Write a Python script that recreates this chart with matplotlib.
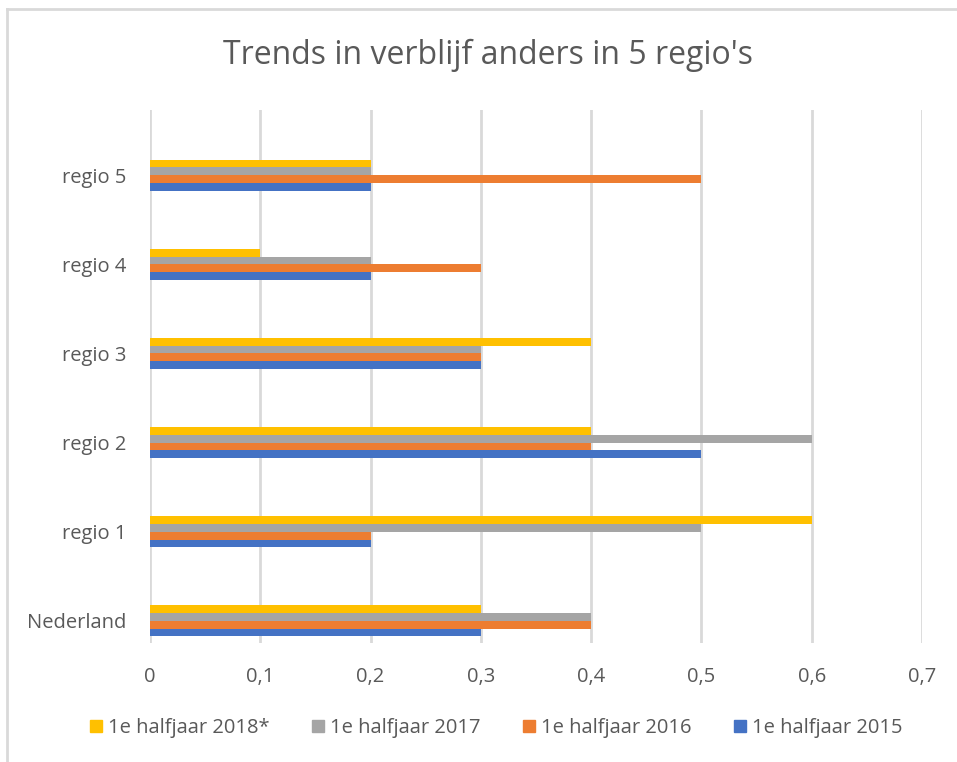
import matplotlib.pyplot as plt
import numpy as np
from matplotlib.lines import Line2D

plt.rcParams['font.family'] = ['Open Sans', 'DejaVu Sans']

# data
regios = ['Nederland', 'regio 1', 'regio 2', 'regio 3', 'regio 4', 'regio 5']
jaar_2015 = [0.3, 0.2, 0.5, 0.3, 0.2, 0.2]
jaar_2016 = [0.4, 0.2, 0.4, 0.3, 0.3, 0.5]
jaar_2017 = [0.4, 0.5, 0.6, 0.3, 0.2, 0.2]
jaar_2018 = [0.3, 0.6, 0.4, 0.4, 0.1, 0.2]
labels = ['1e halfjaar 2015', '1e halfjaar 2016', '1e halfjaar 2017', '1e halfjaar 2018*']
kleuren = ['#4472C4', '#ED7D31', '#A5A5A5', '#FFC000']
xticks = [0, 0.1, 0.2, 0.3, 0.4, 0.5, 0.6, 0.7]

fig = plt.figure(figsize=(9.57, 7.62), dpi=100)
W, H = 957, 762
ax = fig.add_axes([150/W, 1-643/H, (922-150)/W, (643-110)/H])

y = np.arange(len(regios))
h = 0.087
series = [jaar_2015, jaar_2016, jaar_2017, jaar_2018]
for i, (vals, c) in enumerate(zip(series, kleuren)):
    ax.barh(y + (i - 1.5)*h, vals, height=h, color=c, zorder=3)

ax.set_xlim(0, 0.7)
ax.set_ylim(-0.247, 5.73)
ax.set_xticks(xticks)
ax.set_xticklabels([('%g' % v).replace('.', ',') for v in xticks])
ax.set_yticks(y)
ax.set_yticklabels(regios)
ax.tick_params(length=0, labelsize=14.5, colors='#595959')
ax.tick_params(axis='y', pad=17)
ax.tick_params(axis='x', pad=17)
for s in ax.spines.values():
    s.set_visible(False)
ax.grid(axis='x', color='#d9d9d9', linewidth=2, zorder=0)

fig.text(488/W, 1-55/H, "Trends in verblijf anders in 5 regio's",
         ha='center', va='center', fontsize=23, color='#595959')

# legend
handles = [Line2D([], [], marker='s', linestyle='', color=c, markersize=9) for c in kleuren]
fig.legend(handles[::-1], labels[::-1], loc='center', bbox_to_anchor=(494/W, 1-728/H),
           ncol=4, frameon=False, fontsize=14.5, labelcolor='#595959',
           handletextpad=0.1, columnspacing=1.9, handlelength=1.0)

# chart border
fig.add_artist(Line2D([7/W, 1], [1-9/H, 1-9/H], color='#d9d9d9', linewidth=2))
fig.add_artist(Line2D([7/W, 7/W], [0, 1-9/H], color='#d9d9d9', linewidth=2))

fig.savefig('out.png', dpi=100)
